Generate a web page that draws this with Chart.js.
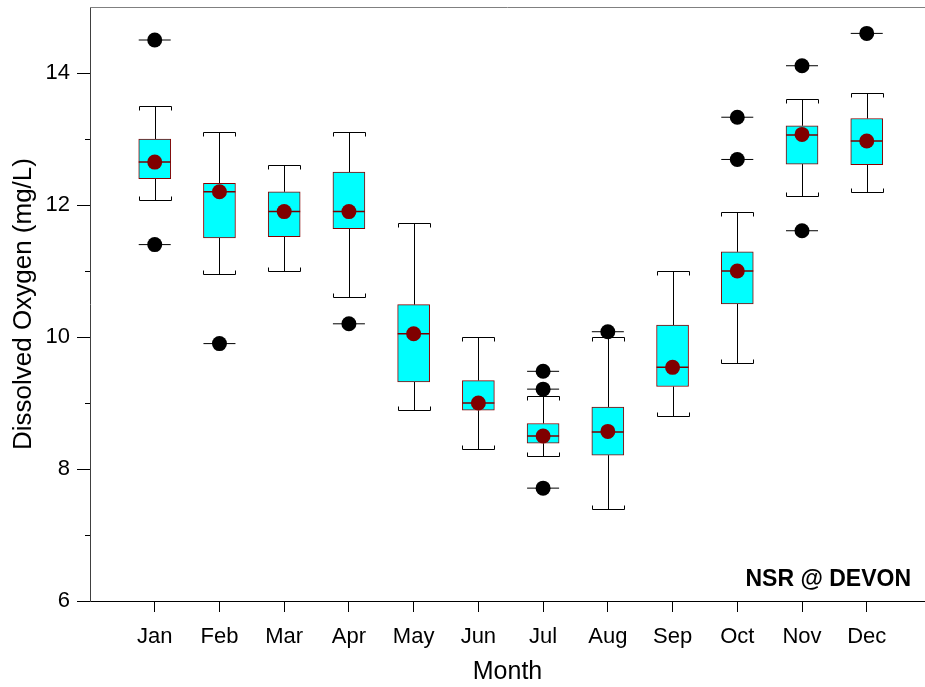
<!DOCTYPE html>
<html>
<head>
<meta charset="utf-8">
<script src="https://cdn.jsdelivr.net/npm/chart.js@4/dist/chart.umd.min.js"></script>
<style>
  html, body { margin: 0; padding: 0; background: #fff; }
  #wrap { width: 925px; height: 687px; }
</style>
</head>
<body>
<div id="wrap"><canvas id="chart"></canvas></div>
<script>
// Monthly dissolved oxygen box plot data (mg/L)
const months = ["Jan", "Feb", "Mar", "Apr", "May", "Jun", "Jul", "Aug", "Sep", "Oct", "Nov", "Dec"];
const whiskerLow = [12.08, 10.95, 11.0, 10.61, 8.9, 8.3, 8.2, 7.39, 8.8, 9.6, 12.13, 12.2];
const q1 = [12.4, 11.5, 11.52, 11.64, 9.32, 8.89, 8.39, 8.21, 9.25, 10.5, 12.62, 12.61];
const median = [12.65, 12.2, 11.9, 11.9, 10.05, 9.0, 8.5, 8.56, 9.54, 11.0, 13.06, 12.97];
const q3 = [13.0, 12.33, 12.2, 12.5, 10.49, 9.34, 8.69, 8.94, 10.18, 11.29, 13.2, 13.31];
const whiskerHigh = [13.5, 13.1, 12.6, 13.1, 11.72, 10.0, 9.1, 10.0, 11.0, 11.89, 13.61, 13.7];
const means = [12.65, 12.2, 11.9, 11.9, 10.05, 9.0, 8.5, 8.57, 9.54, 11.0, 13.07, 12.97];
const outliers = [
  [14.5, 11.4], [9.9], [], [10.2], [], [],
  [9.48, 9.21, 7.71], [10.08], [], [13.33, 12.69], [14.11, 11.61], [14.6]
];
const yTicks = [6, 8, 10, 12, 14];
const yMinorTicks = [7, 9, 11, 13];

const boxWidth = 32;
const fontFamily = "'Liberation Sans', Arial, sans-serif";

const outlierPoints = [];
outliers.forEach(function (list, i) {
  list.forEach(function (v) { outlierPoints.push({ x: i + 1, y: v }); });
});

// Whiskers, caps, minor ticks, frame and site label
const boxExtras = {
  id: "boxExtras",
  beforeDatasetsDraw: function (chart) {
    const ctx = chart.ctx;
    const xs = chart.scales.x, ys = chart.scales.y;
    const half = boxWidth / 2;
    ctx.save();
    ctx.strokeStyle = "#000";
    ctx.lineWidth = 1;
    months.forEach(function (m, i) {
      const x = Math.round(xs.getPixelForValue(i + 1)) + 0.5;
      const yHi = Math.round(ys.getPixelForValue(whiskerHigh[i])) + 0.5;
      const yLo = Math.round(ys.getPixelForValue(whiskerLow[i])) + 0.5;
      const yQ1 = ys.getPixelForValue(q1[i]);
      const yQ3 = ys.getPixelForValue(q3[i]);
      ctx.beginPath();
      ctx.moveTo(x, yHi); ctx.lineTo(x, yQ3);
      ctx.moveTo(x, yQ1); ctx.lineTo(x, yLo);
      // top cap
      ctx.moveTo(x - half, yHi + 4); ctx.lineTo(x - half, yHi);
      ctx.lineTo(x + half, yHi); ctx.lineTo(x + half, yHi + 4);
      // bottom cap
      ctx.moveTo(x - half, yLo - 4); ctx.lineTo(x - half, yLo);
      ctx.lineTo(x + half, yLo); ctx.lineTo(x + half, yLo - 4);
      ctx.stroke();
    });
    ctx.restore();
  },
  afterDraw: function (chart) {
    const ctx = chart.ctx;
    const area = chart.chartArea;
    const ys = chart.scales.y;
    ctx.save();
    ctx.strokeStyle = "#000";
    ctx.lineWidth = 1;
    ctx.beginPath();
    yMinorTicks.forEach(function (v) {
      const y = Math.round(ys.getPixelForValue(v)) + 0.5;
      ctx.moveTo(area.left - 5, y);
      ctx.lineTo(area.left, y);
    });
    ctx.stroke();
    // top frame line
    ctx.strokeStyle = "#808080";
    ctx.beginPath();
    ctx.moveTo(area.left, area.top + 0.5);
    ctx.lineTo(area.right, area.top + 0.5);
    ctx.stroke();
    // site label
    ctx.fillStyle = "#000";
    ctx.font = "bold 23px " + fontFamily;
    ctx.textAlign = "right";
    ctx.textBaseline = "alphabetic";
    ctx.fillText("NSR @ DEVON", 911, 586);
    ctx.restore();
  }
};

new Chart(document.getElementById("chart").getContext("2d"), {
  type: "bar",
  data: {
    datasets: [
      {
        type: "scatter",
        label: "Mean",
        data: means.map(function (v, i) { return { x: i + 1, y: v }; }),
        pointStyle: "circle",
        pointRadius: 7.5,
        backgroundColor: "#800000",
        borderColor: "#800000",
        borderWidth: 0,
        order: 1
      },
      {
        type: "scatter",
        label: "Outliers",
        data: outlierPoints,
        pointStyle: "circle",
        pointRadius: 7.5,
        backgroundColor: "#000",
        borderColor: "#000",
        borderWidth: 0,
        order: 2
      },
      {
        type: "scatter",
        label: "Outlier marks",
        data: outlierPoints,
        pointStyle: "line",
        pointRadius: boxWidth / 2,
        borderColor: "#000",
        borderWidth: 1,
        order: 3
      },
      {
        type: "scatter",
        label: "Median",
        data: median.map(function (v, i) { return { x: i + 1, y: v }; }),
        pointStyle: "line",
        pointRadius: boxWidth / 2,
        borderColor: "#7a0000",
        borderWidth: 1.5,
        order: 4
      },
      {
        type: "bar",
        label: "IQR",
        data: q1.map(function (v, i) { return { x: i + 1, y: [v, q3[i]] }; }),
        backgroundColor: "#00ffff",
        borderColor: "#8b0000",
        borderWidth: 1,
        borderSkipped: false,
        barThickness: boxWidth,
        order: 5
      }
    ]
  },
  options: {
    responsive: true,
    maintainAspectRatio: false,
    animation: false,
    events: [],
    layout: { autoPadding: false, padding: { top: 7, left: 0, right: 0, bottom: 0 } },
    plugins: {
      legend: { display: false },
      tooltip: { enabled: false }
    },
    scales: {
      x: {
        type: "linear",
        min: 0,
        max: 12.9,
        offset: false,
        afterFit: function (scale) {
          scale.height = 86;
          scale.paddingLeft = 0;
          scale.paddingRight = 0;
        },
        afterBuildTicks: function (scale) {
          scale.ticks = months.map(function (m, i) { return { value: i + 1 }; });
        },
        ticks: {
          autoSkip: false,
          maxRotation: 0,
          padding: 12,
          color: "#000",
          font: { family: fontFamily, size: 22 },
          callback: function (value) { return months[value - 1]; }
        },
        grid: { offset: false, drawOnChartArea: false, drawTicks: true, tickLength: 11, color: "#000" },
        border: { display: true, color: "#000", width: 1 },
        title: {
          display: true,
          text: "Month",
          color: "#000",
          font: { family: fontFamily, size: 25 },
          padding: { top: 0, bottom: 0 }
        }
      },
      y: {
        min: 6,
        max: 15,
        afterFit: function (scale) {
          scale.width = 90;
          scale.paddingTop = 0;
          scale.paddingBottom = 0;
        },
        afterBuildTicks: function (scale) {
          scale.ticks = yTicks.map(function (v) { return { value: v }; });
        },
        ticks: {
          padding: 7,
          color: "#000",
          font: { family: fontFamily, size: 22 }
        },
        grid: { drawOnChartArea: false, drawTicks: true, tickLength: 13, color: "#000" },
        border: { display: true, color: "#404040", width: 1 },
        title: {
          display: true,
          text: "Dissolved Oxygen (mg/L)",
          color: "#000",
          font: { family: fontFamily, size: 26 },
          padding: { top: 8, bottom: 0 }
        }
      }
    }
  },
  plugins: [boxExtras]
});
</script>
</body>
</html>
